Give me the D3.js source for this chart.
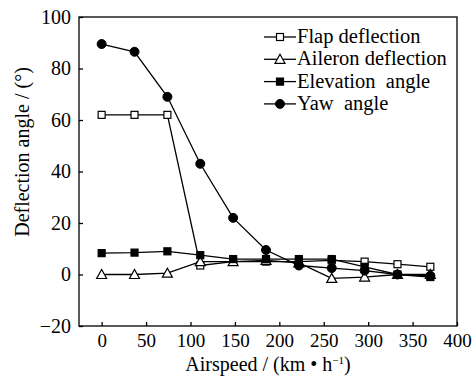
<!DOCTYPE html>
<html>
<head>
<meta charset="utf-8">
<script src="https://d3js.org/d3.v7.min.js"></script>
<style>
  body { margin: 0; background: #fff; }
  svg text { font-family: "Liberation Serif" !important; }
  .axis path, .axis line { stroke: #000; stroke-width: 1.3px; }
  .series { fill: none; stroke: #000; stroke-width: 1.3px; }
</style>
</head>
<body>
<svg id="chart" width="476" height="377" font-family="Liberation Serif"></svg>
<script>
var airspeed = [0, 37, 74, 111, 148, 185, 222, 259, 296, 333, 370];
var flap = [62, 62, 62, 3.5, 5, 5, 5, 5.5, 5, 4, 3];
var aileron = [0, 0, 0.5, 5, 5, 5.5, 4.5, -1.5, -1, 0, 0];
var elevation = [8.3, 8.5, 9, 7.5, 6, 6, 6, 6, 3, 0, -1];
var yaw = [89.5, 86.5, 69, 43, 22, 9.5, 3.5, 2.5, 1.5, 0, -0.5];
var xTicks = [0, 50, 100, 150, 200, 250, 300, 350, 400];
var yTicks = [-20, 0, 20, 40, 60, 80, 100];

var series = [
    {name: "Flap deflection", values: flap, marker: "square", filled: false},
    {name: "Aileron deflection", values: aileron, marker: "triangle", filled: false},
    {name: "Elevation  angle", values: elevation, marker: "square", filled: true},
    {name: "Yaw  angle", values: yaw, marker: "circle", filled: true}
];

var svg = d3.select("#chart"),
    plotL = 79, plotR = 457, plotT = 17, plotB = 326;

var x = d3.scaleLinear().domain([-25.5, 400]).range([plotL, plotR]);
var y = d3.scaleLinear().domain([-20, 100]).range([plotB, plotT]);

// frame
svg.append("rect")
    .attr("x", plotL).attr("y", plotT)
    .attr("width", plotR - plotL).attr("height", plotB - plotT)
    .attr("fill", "none").attr("stroke", "#000").attr("stroke-width", 1.3);

var xAxis = svg.append("g").attr("class", "axis")
    .attr("transform", "translate(0," + plotB + ")")
    .call(d3.axisBottom(x).tickValues(xTicks).tickSizeInner(-4).tickSizeOuter(0).tickPadding(8));
xAxis.select(".domain").remove();
xAxis.attr("font-family", null).attr("font-size", 19);
xAxis.selectAll("text").attr("fill", "#000");

var yAxis = svg.append("g").attr("class", "axis")
    .attr("transform", "translate(" + plotL + ",0)")
    .call(d3.axisLeft(y).tickValues(yTicks).tickSizeInner(-4).tickSizeOuter(0).tickPadding(8)
        .tickFormat(function (d) { return d < 0 ? "\u2212" + Math.abs(d) : d; }));
yAxis.select(".domain").remove();
yAxis.attr("font-family", null).attr("font-size", 20);
yAxis.selectAll("text").attr("fill", "#000");

svg.append("text")
    .attr("x", 268).attr("y", 371)
    .attr("text-anchor", "middle").attr("font-size", 20)
    .html("Airspeed / (km \u2022 h<tspan dy='-7' font-size='11'>\u22121</tspan><tspan dy='7'>)</tspan>");

svg.append("text")
    .attr("transform", "translate(29,152) rotate(-90)")
    .attr("text-anchor", "middle").attr("font-size", 20)
    .text("Deflection angle / (\u00b0)");

function drawMarker(g, type, filled, cx, cy) {
    var fill = filled ? "#000" : "#fff";
    if (type === "square") {
        g.append("rect").attr("x", cx - 3.5).attr("y", cy - 3.5)
            .attr("width", 7).attr("height", 7)
            .attr("fill", fill).attr("stroke", "#000").attr("stroke-width", 1.2);
    } else if (type === "triangle") {
        g.append("path")
            .attr("d", "M" + cx + "," + (cy - 5) + "L" + (cx + 5) + "," + (cy + 4) + "L" + (cx - 5) + "," + (cy + 4) + "Z")
            .attr("fill", fill).attr("stroke", "#000").attr("stroke-width", 1.2);
    } else {
        g.append("circle").attr("cx", cx).attr("cy", cy).attr("r", 4.5)
            .attr("fill", fill).attr("stroke", "#000").attr("stroke-width", 1);
    }
}

var line = d3.line()
    .x(function (d, i) { return x(airspeed[i]); })
    .y(function (d) { return y(d); });

series.forEach(function (s) {
    var g = svg.append("g");
    g.append("path").attr("class", "series").attr("d", line(s.values));
    s.values.forEach(function (v, i) {
        drawMarker(g, s.marker, s.filled, x(airspeed[i]), y(v));
    });
});

// legend
var legend = svg.append("g").attr("transform", "translate(264,37)");
series.forEach(function (s, i) {
    var row = legend.append("g").attr("transform", "translate(0," + (i * 22.3) + ")");
    row.append("line").attr("x1", 0).attr("x2", 32).attr("y1", 0).attr("y2", 0)
        .attr("stroke", "#000").attr("stroke-width", 1.3);
    drawMarker(row, s.marker, s.filled, 16, 0);
    row.append("text").attr("x", 33).attr("y", 6).attr("font-size", 20.5)
        .style("white-space", "pre")
        .text(s.name);
});
</script>
</body>
</html>
